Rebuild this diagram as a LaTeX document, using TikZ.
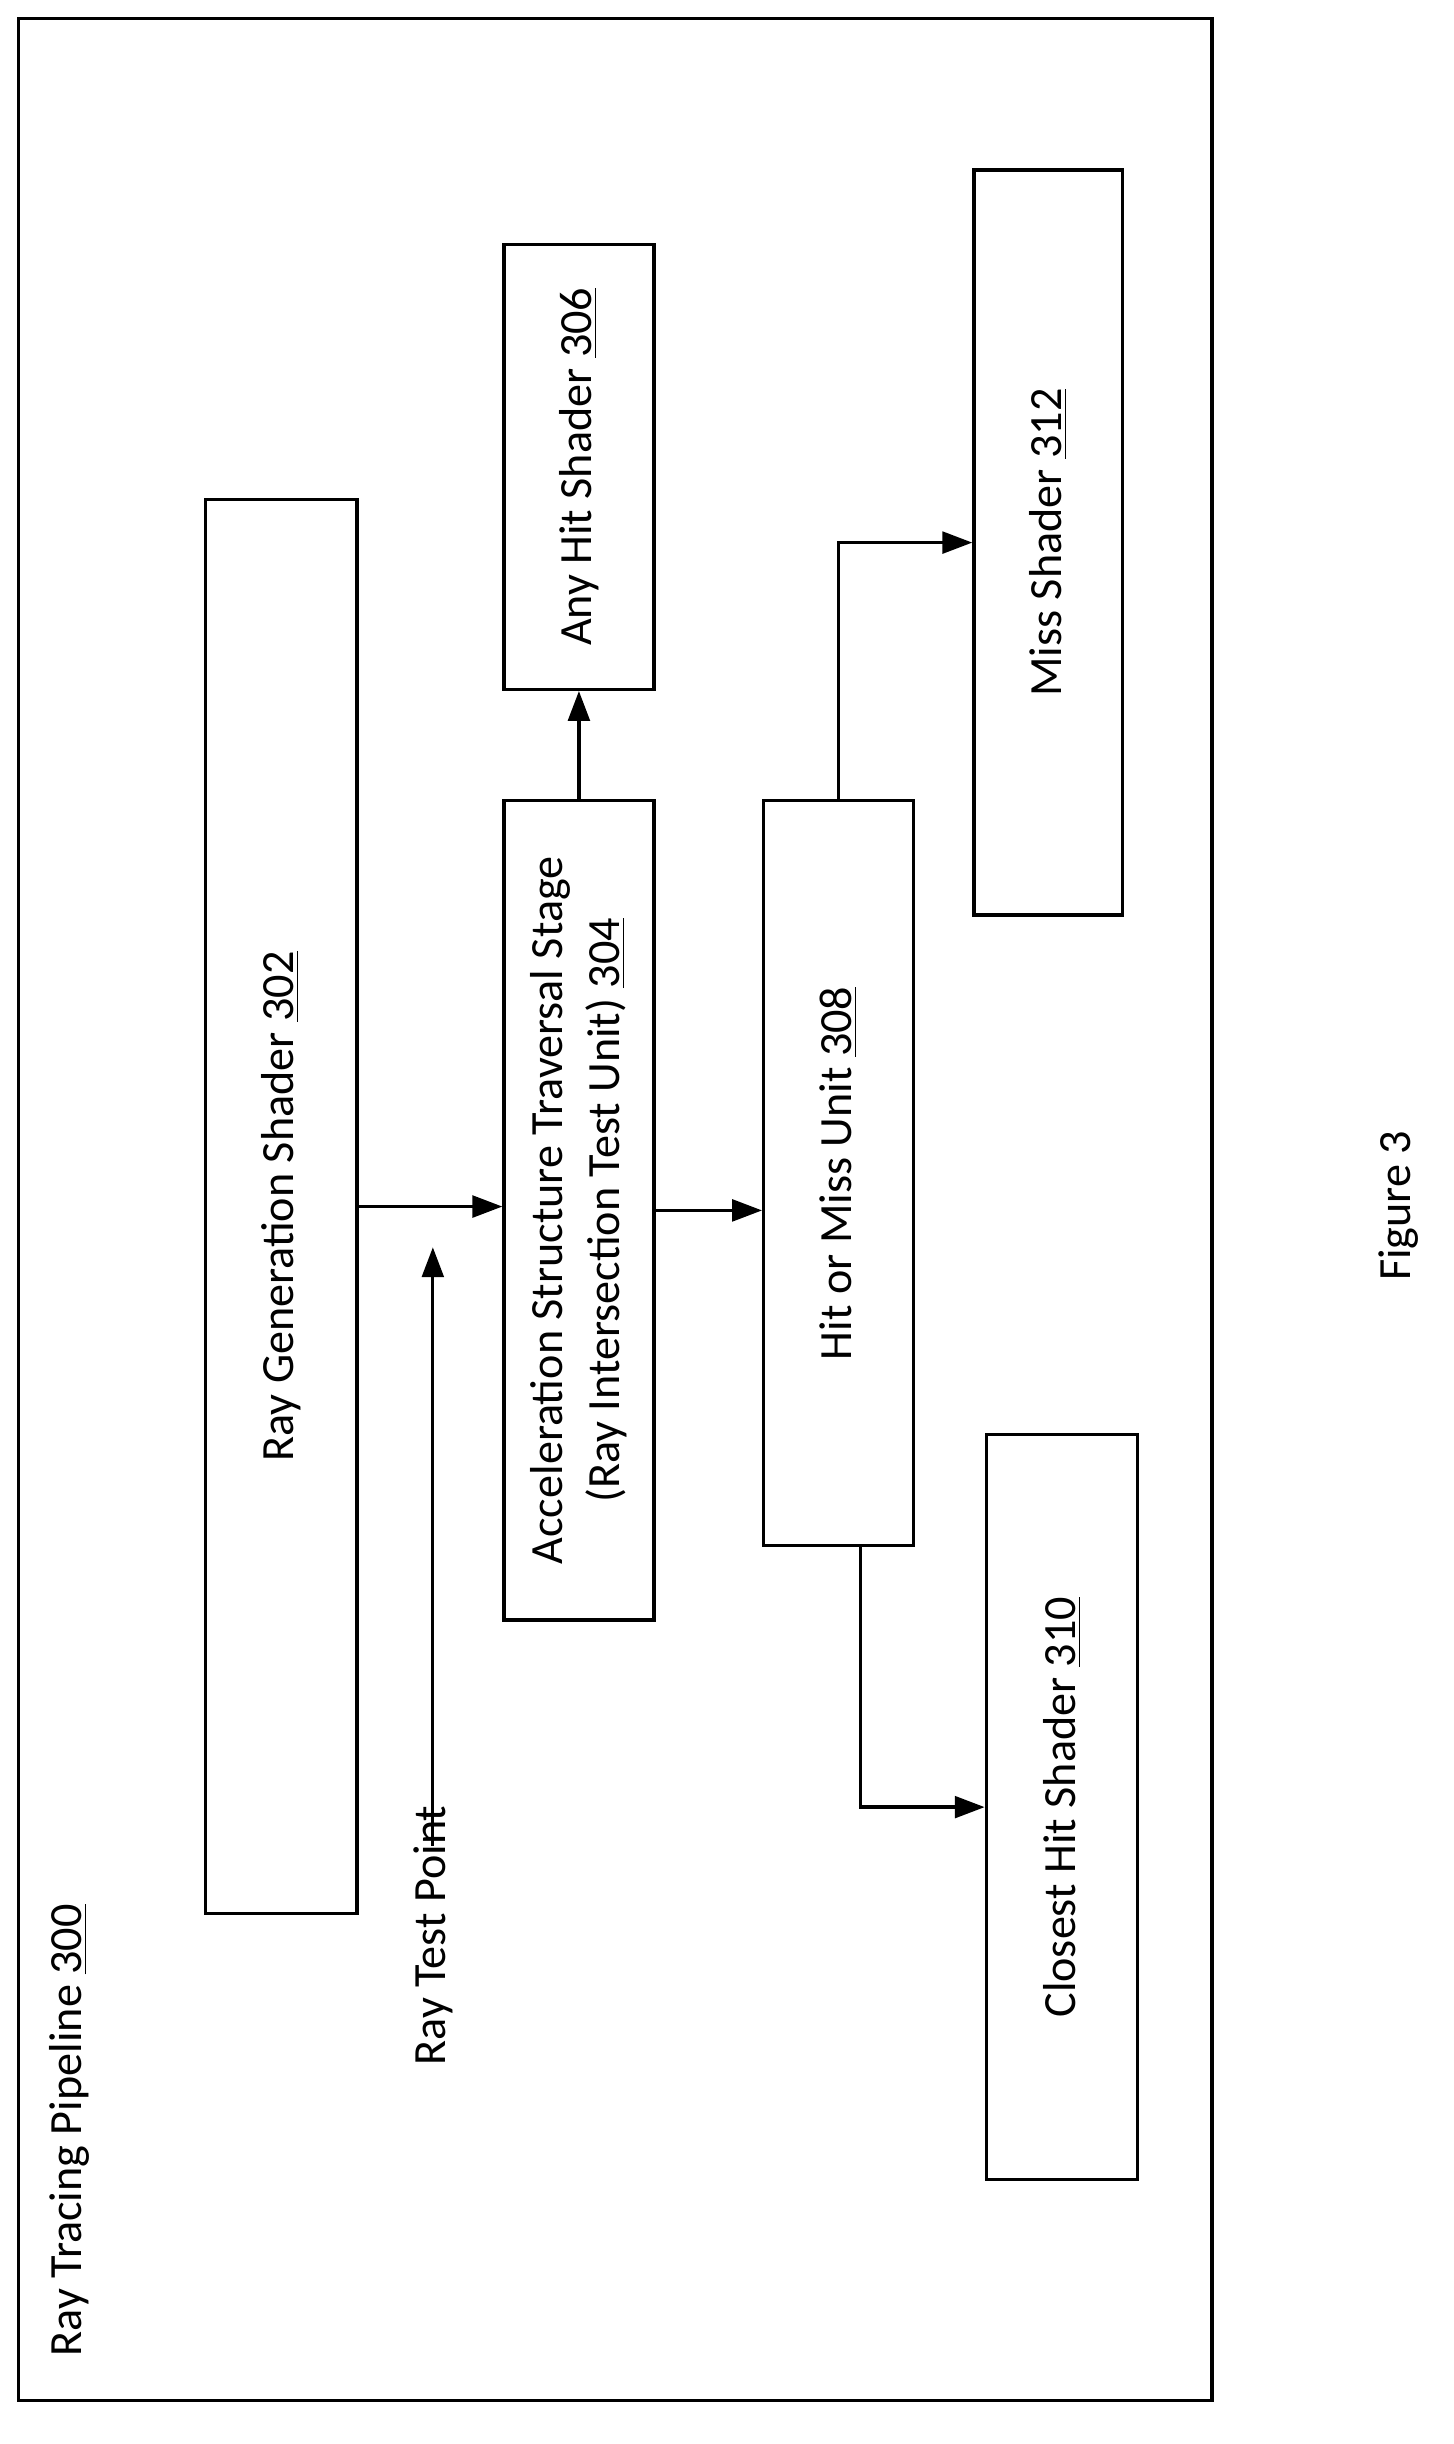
\documentclass[tikz,border=0pt]{standalone}
\usepackage{fontspec}
\setmainfont{Carlito}
\usetikzlibrary{arrows.meta}
\tikzset{
  box/.style={draw, line width=1.2pt, rotate=90, inner sep=0pt, align=center,
    font=\fontsize{17}{21}\selectfont},
  lbl/.style={rotate=90, inner sep=0pt, font=\fontsize{17}{21}\selectfont},
  conn/.style={line width=1.2pt, -{Triangle[length=11pt,width=8pt]}}
}
\begin{document}
\begin{tikzpicture}[x=0.02cm, y=0.02cm]
\useasboundingbox (0,0) rectangle (940,-1581);
\draw [line width=1.2pt] (12,-12) rectangle (784,-1553);
\node [lbl] (title) at (45,-1378) {Ray Tracing Pipeline \underline{300}};
% boxes
\node [box, minimum width=18.3cm, minimum height=1.96cm] (raygen) at (182,-780.5) {Ray Generation Shader \underline{302}};
\node [box, minimum width=10.6cm, minimum height=1.94cm] (accel) at (374.5,-783) {Acceleration Structure Traversal Stage\\(Ray Intersection Test Unit) \underline{304}};
\node [box, minimum width=5.76cm, minimum height=1.94cm] (anyhit) at (374.5,-302) {Any Hit Shader \underline{306}};
\node [box, minimum width=9.64cm, minimum height=1.94cm] (hitmiss) at (542.5,-759) {Hit or Miss Unit \underline{308}};
\node [box, minimum width=9.64cm, minimum height=1.92cm] (miss) at (678,-351) {Miss Shader \underline{312}};
\node [box, minimum width=9.64cm, minimum height=1.96cm] (closest) at (687,-1169) {Closest Hit Shader \underline{310}};
\node [lbl] (rtp) at (280,-1252) {Ray Test Point};
\node [lbl] (fig) at (905,-780) {Figure 3};
% connectors
\draw [conn] (raygen.south) -- (raygen.south -| accel.north);
\draw [conn] ([yshift=-15]rtp.east) -- ([yshift=-15]rtp.east |- raygen.south);
\draw [conn] (accel.south) -- (accel.south -| hitmiss.north);
\draw [conn] (accel.east) -- (anyhit.west);
\draw [conn] (hitmiss.east) |- (miss.north);
\draw [conn] ([xshift=8]hitmiss.west) |- (closest.north);
\end{tikzpicture}
\end{document}
